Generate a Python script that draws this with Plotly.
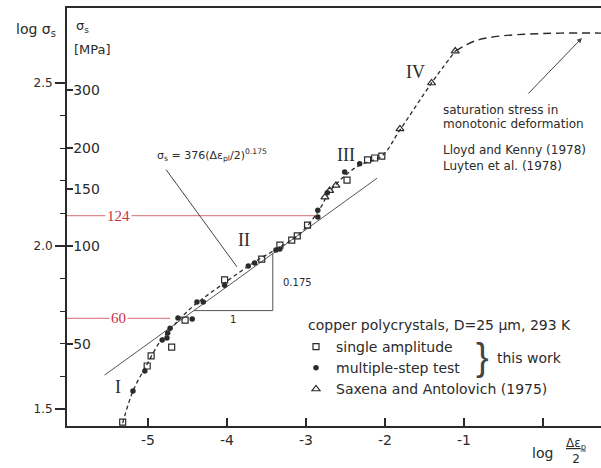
import plotly.graph_objects as go
import numpy as np

# ---- data: x = log(Δε_p/2), y = log σ_s ----
sa_x = [-5.32, -5.01, -4.96, -4.70, -4.53, -4.03, -3.56, -3.33, -3.18, -3.11, -2.98, -2.48, -2.22, -2.13, -2.04]
sa_y = [1.460, 1.632, 1.663, 1.690, 1.773, 1.896, 1.960, 2.003, 2.018, 2.031, 2.064, 2.202, 2.264, 2.270, 2.276]

ms_x = [-5.19, -5.04, -4.82, -4.76, -4.75, -4.72, -4.62, -4.44, -4.38, -4.30, -4.03, -3.73, -3.65,
        -3.38, -3.33, -2.85, -2.85, -2.73, -2.51, -2.32]
ms_y = [1.555, 1.617, 1.712, 1.718, 1.733, 1.748, 1.779, 1.776, 1.828, 1.828, 1.880, 1.939, 1.948,
        1.988, 1.991, 2.089, 2.110, 2.163, 2.227, 2.252]

sx_x = [-2.76, -2.70, -2.62, -1.81, -1.41, -1.11]
sx_y = [2.150, 2.170, 2.186, 2.359, 2.500, 2.598]

curve_x = [-5.32, -5.19, -5.01, -4.85, -4.72, -4.60, -4.41, -4.03, -3.65, -3.33, -3.08, -2.85, -2.70,
           -2.51, -2.32, -2.04, -1.81, -1.41, -1.11]
curve_y = [1.457, 1.555, 1.638, 1.706, 1.742, 1.776, 1.819, 1.887, 1.951, 1.997, 2.037, 2.104, 2.166,
           2.215, 2.248, 2.276, 2.356, 2.500, 2.598]

sat_x = [-1.11, -0.86, -0.54, -0.17, 0.22, 0.75]
sat_y = [2.598, 2.629, 2.644, 2.650, 2.653, 2.653]

fit_x = [-5.55, -2.10]
fit_y = [1.604, 2.208]

tri_x = [-4.42, -3.42, -3.42]
tri_y = [1.802, 1.802, 1.977]

ref_mpa = [124, 60]
ref_end_x = [-2.85, -4.72]

mpa_ticks = [50, 100, 150, 200, 300]
log_major = [1.5, 2.0, 2.5]
log_minor = [1.6, 1.7, 1.8, 1.9, 2.1, 2.2, 2.3, 2.4]
x_ticks = [-5, -4, -3, -2, -1, 0]
x_ticktext = ["-5", "-4", "-3", "-2", "-1", ""]

X_RANGE = [-6.025, 0.735]
Y_RANGE = [1.448, 2.730]

INK = "#2b2b2b"
RED_LINE = "#e08890"
RED_TXT = "#cc3048"
FONT = "DejaVu Sans"
SERIF = "Liberation Serif"

fig = go.Figure()

# reference lines at 124 and 60 MPa
for v, xe in zip(ref_mpa, ref_end_x):
    fig.add_trace(go.Scatter(x=[X_RANGE[0], xe], y=[np.log10(v)] * 2, mode="lines",
                             line=dict(color=RED_LINE, width=1.2), showlegend=False, hoverinfo="skip"))

# fit line and slope triangle
fig.add_trace(go.Scatter(x=fit_x, y=fit_y, mode="lines", line=dict(color="#555", width=1),
                         showlegend=False, hoverinfo="skip"))
fig.add_trace(go.Scatter(x=tri_x, y=tri_y, mode="lines", line=dict(color="#555", width=1),
                         showlegend=False, hoverinfo="skip"))

# data curve
fig.add_trace(go.Scatter(x=curve_x, y=curve_y, mode="lines", line=dict(color=INK, width=1.3, dash="4px,3px"),
                         line_shape="spline", showlegend=False, hoverinfo="skip"))
fig.add_trace(go.Scatter(x=sat_x, y=sat_y, mode="lines", line=dict(color=INK, width=1.4, dash="8px,5px"),
                         line_shape="spline", showlegend=False, hoverinfo="skip"))

# series
fig.add_trace(go.Scatter(x=sa_x, y=sa_y, mode="markers", name="single amplitude",
                         marker=dict(symbol="square-open", size=6, color=INK, line=dict(width=1.2))))
fig.add_trace(go.Scatter(x=ms_x, y=ms_y, mode="markers", name="multiple-step test",
                         marker=dict(symbol="circle", size=5.5, color=INK)))
fig.add_trace(go.Scatter(x=sx_x, y=sx_y, mode="markers", name="Saxena and Antolovich (1975)",
                         marker=dict(symbol="triangle-up-open", size=7, color=INK, line=dict(width=1.2))))

# invisible trace to activate yaxis2
fig.add_trace(go.Scatter(x=[None], y=[None], yaxis="y2", showlegend=False))

ann = []
def A(**kw):
    base = dict(showarrow=False, font=dict(family=FONT, size=12, color=INK))
    base.update(kw)
    ann.append(base)

# red labels
for v in ref_mpa:
    A(x=-5.37, y=np.log10(v), text=str(v), font=dict(family=SERIF, size=15, color=RED_TXT),
      bgcolor="white", xanchor="center", yanchor="middle")

# roman numerals
for t, xx, yy in [("I", -5.38, 1.567), ("II", -3.785, 2.018), ("III", -2.494, 2.279), ("IV", -1.608, 2.534)]:
    A(x=xx, y=yy, text=t, font=dict(family=SERIF, size=18, color=INK), xanchor="center", yanchor="middle")

# formula + pointer
A(x=-4.19, y=2.279, text="σ<sub>s</sub> = 376(Δε<sub>pl</sub>/2)<sup>0.175</sup>",
  font=dict(family=FONT, size=11, color=INK), xanchor="center", yanchor="middle")
ann.append(dict(x=-3.873, y=1.936, ax=-4.785, ay=2.239, axref="x", ayref="y", xref="x", yref="y",
                text="", showarrow=True, arrowhead=0, arrowwidth=1, arrowcolor="#444"))

# slope labels
A(x=-3.316, y=1.887, text="0.175", font=dict(family=FONT, size=10, color=INK), xanchor="left", yanchor="middle")
A(x=-3.924, y=1.776, text="1", font=dict(family=FONT, size=10, color=INK), xanchor="center", yanchor="middle")

# saturation note
for t, yy in [("saturation stress in", 2.417), ("monotonic deformation", 2.374),
              ("Lloyd and Kenny (1978)", 2.294), ("Luyten et al. (1978)", 2.245)]:
    A(x=-1.291, y=yy, text=t, xanchor="left", yanchor="middle")
ann.append(dict(x=0.494, y=2.638, ax=-0.203, ay=2.463, axref="x", ayref="y", xref="x", yref="y",
                text="", showarrow=True, arrowhead=2, arrowsize=1, arrowwidth=1, arrowcolor="#444"))

# legend title & brace
A(xref="paper", yref="paper", x=(306 - 67) / 534, y=(426 - 325) / 418, text="copper polycrystals, D=25 μm, 293 K",
  font=dict(family=FONT, size=14, color=INK), xanchor="left", yanchor="middle")
A(xref="paper", yref="paper", x=(474 - 67) / 534, y=(426 - 357) / 418, text="}",
  font=dict(family="Liberation Sans", size=38, color="#444"), xanchor="left", yanchor="middle")
A(xref="paper", yref="paper", x=(495 - 67) / 534, y=(426 - 358) / 418, text="this work",
  font=dict(family=FONT, size=14, color=INK), xanchor="left", yanchor="middle")

# axis titles
A(xref="paper", yref="paper", x=(14 - 67) / 534, y=(426 - 30) / 418, text="log σ<sub>s</sub>",
  font=dict(family=FONT, size=14, color=INK), xanchor="left", yanchor="middle")
A(xref="paper", yref="paper", x=(74 - 67) / 534, y=(426 - 27) / 418, text="σ<sub>s</sub>",
  font=dict(family=FONT, size=13, color=INK), xanchor="left", yanchor="middle")
A(xref="paper", yref="paper", x=(72 - 67) / 534, y=(426 - 50) / 418, text="[MPa]",
  font=dict(family=FONT, size=13, color=INK), xanchor="left", yanchor="middle")
A(xref="paper", yref="paper", x=(530 - 67) / 534, y=(426 - 453) / 418, text="log",
  font=dict(family=FONT, size=14, color=INK), xanchor="left", yanchor="middle")
A(xref="paper", yref="paper", x=(576 - 67) / 534, y=(426 - 451) / 418, text="<u>Δε<sub>p</sub></u><br>2",
  font=dict(family=FONT, size=12, color=INK), xanchor="center", yanchor="middle")

fig.update_layout(
    width=601, height=468,
    margin=dict(l=67, r=0, t=8, b=42),
    paper_bgcolor="white", plot_bgcolor="white",
    font=dict(family=FONT, color=INK),
    annotations=ann,
    legend=dict(x=(296 - 67) / 534, y=(426 - 331) / 418, xanchor="left", yanchor="top",
                font=dict(family=FONT, size=14, color=INK), bgcolor="rgba(0,0,0,0)",
                tracegroupgap=0, itemwidth=30),
    xaxis=dict(range=X_RANGE, showgrid=False, zeroline=False, showline=True, linewidth=2, linecolor=INK,
               mirror=True, ticks="inside", ticklen=8, tickwidth=1.5, tickcolor=INK,
               tickmode="array", tickvals=x_ticks, ticktext=x_ticktext,
               tickfont=dict(family=FONT, size=14, color=INK)),
    yaxis=dict(range=Y_RANGE, showgrid=False, zeroline=False, showline=True, linewidth=2, linecolor=INK,
               ticks="outside", ticklen=10, tickwidth=1.5, tickcolor=INK,
               tickmode="array", tickvals=log_major, ticktext=["1.5", "2.0", "2.5"],
               tickfont=dict(family=FONT, size=12, color=INK),
               minor=dict(tickmode="array", tickvals=log_minor, ticks="outside", ticklen=5, tickcolor=INK, tickwidth=1.2)),
    yaxis2=dict(range=Y_RANGE, overlaying="y", side="left", anchor="x", showgrid=False, zeroline=False,
                showline=False, ticks="inside", ticklen=6, tickwidth=1.5, tickcolor=INK,
                ticklabelposition="inside",
                tickmode="array", tickvals=[float(np.log10(v)) for v in mpa_ticks],
                ticktext=[str(v) for v in mpa_ticks],
                tickfont=dict(family=FONT, size=14, color=INK)),
)

fig.write_html("out.html")
